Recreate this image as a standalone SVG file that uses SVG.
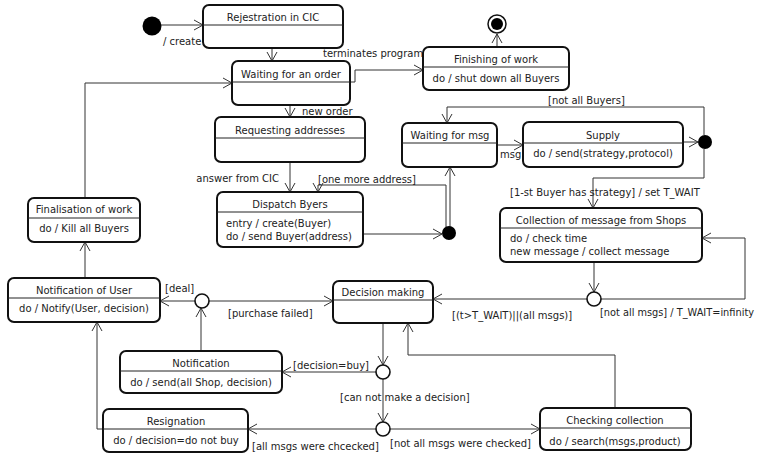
<svg xmlns="http://www.w3.org/2000/svg" width="757" height="455" viewBox="0 0 757 455">
<defs>
<marker id="arr" markerWidth="12" markerHeight="12" refX="10" refY="6" orient="auto" markerUnits="userSpaceOnUse">
<path d="M1,1 L10,6 L1,11" fill="none" stroke="#333" stroke-width="1"/>
</marker>
<style>
.st{fill:#fff;stroke:#111;stroke-width:2}
.sep{stroke:#222;stroke-width:1}
text{font-family:"DejaVu Sans",sans-serif;font-size:10px;fill:#222}
.c{text-anchor:middle}
.e{fill:none;stroke:#333;stroke-width:1;marker-end:url(#arr)}
.ln{fill:none;stroke:#333;stroke-width:1}
.ch{fill:#fff;stroke:#111;stroke-width:1.6}
</style>
</defs>
<rect width="757" height="455" fill="#fff"/>
<g id="connectors">
<path class="e" d="M161,25 H203"/>
<path class="e" d="M272,48 V61"/>
<path class="e" d="M350,82 H355 V70 H423"/>
<path class="e" d="M497,47 V34"/>
<path class="e" d="M290,105 V117"/>
<path class="e" d="M290,162 V192"/>
<path class="e" d="M363,234 H442"/>
<path class="e" d="M446,227 V185 H318 V192"/>
<path class="e" d="M450,227 V167"/>
<path class="e" d="M497,145 H523"/>
<path class="e" d="M683,142 H698"/>
<path class="e" d="M704,135 V107 H447 V123"/>
<path class="e" d="M704,149 V178 H593 V208"/>
<path class="e" d="M594,262 V292"/>
<path class="e" d="M601,299 H745 V238 H702"/>
<path class="e" d="M587,299 H433"/>
<path class="e" d="M383,323 V365"/>
<path class="e" d="M376,372 H282"/>
<path class="e" d="M383,379 V422"/>
<path class="e" d="M376,429 H248"/>
<path class="e" d="M390,429 H540"/>
<path class="e" d="M615,408 V355 H408 V323"/>
<path class="e" d="M201,351 V308"/>
<path class="e" d="M195,301 H160"/>
<path class="e" d="M209,301 H333"/>
<path class="e" d="M85,278 V242"/>
<path class="e" d="M85,198 V83 H232"/>
<path class="e" d="M103,429 H97 V322"/>
<text x="163" y="45">/ create</text>
<text x="323" y="57">terminates program</text>
<text x="302" y="115">new order</text>
<text x="279" y="182" text-anchor="end">answer from CIC</text>
<text x="318" y="183">[one more address]</text>
<text x="500" y="158">msg</text>
<text x="548" y="104">[not all Buyers]</text>
<text x="510" y="196">[1-st Buyer has strategy] / set T_WAIT</text>
<text x="600" y="316" textLength="154" lengthAdjust="spacingAndGlyphs">[not all msgs] / T_WAIT=infinity</text>
<text x="452" y="319">[(t&gt;T_WAIT)||(all msgs)]</text>
<text x="165" y="292">[deal]</text>
<text x="228" y="317">[purchase failed]</text>
<text x="293" y="369">[decision=buy]</text>
<text x="340" y="401">[can not make a decision]</text>
<text x="252" y="450">[all msgs were chcecked]</text>
<text x="390" y="447">[not all msgs were checked]</text>
</g>
<g id="initial"><circle cx="152" cy="26" r="9.5" fill="#000"/></g>
<g id="final"><circle cx="497" cy="24" r="9" fill="#fff" stroke="#111" stroke-width="1.5"/><circle cx="497" cy="24" r="6" fill="#000"/></g>
<g id="junction1"><circle cx="449" cy="233" r="7" fill="#000"/></g>
<g id="junction2"><circle cx="705" cy="142" r="7" fill="#000"/></g>
<g id="choice1"><circle class="ch" cx="594" cy="299" r="7"/></g>
<g id="choice2"><circle class="ch" cx="202" cy="301" r="7"/></g>
<g id="choice3"><circle class="ch" cx="383" cy="372" r="7"/></g>
<g id="choice4"><circle class="ch" cx="383" cy="429" r="7"/></g>
<g id="rejestration"><rect class="st" x="203" y="5" width="140" height="43" rx="6"/><line class="sep" x1="203" y1="25" x2="343" y2="25"/><text class="c" x="273" y="21">Rejestration in CIC</text></g>
<g id="waiting-order"><rect class="st" x="232" y="61" width="118" height="44" rx="6"/><line class="sep" x1="232" y1="82" x2="350" y2="82"/><text class="c" x="291" y="78">Waiting for an order</text></g>
<g id="finishing"><rect class="st" x="423" y="47" width="146" height="43" rx="6"/><line class="sep" x1="423" y1="67" x2="569" y2="67"/><text class="c" x="496" y="63">Finishing of work</text><text class="c" x="496" y="82">do / shut down all Buyers</text></g>
<g id="requesting"><rect class="st" x="215" y="117" width="150" height="45" rx="6"/><line class="sep" x1="215" y1="138" x2="365" y2="138"/><text class="c" x="290" y="134">Requesting addresses</text></g>
<g id="dispatch"><rect class="st" x="217" y="192" width="146" height="55" rx="6"/><line class="sep" x1="217" y1="212" x2="363" y2="212"/><text class="c" x="290" y="208">Dispatch Byers</text><text x="226" y="227">entry / create(Buyer)</text><text x="226" y="240">do / send Buyer(address)</text></g>
<g id="waiting-msg"><rect class="st" x="402" y="123" width="95" height="44" rx="6"/><line class="sep" x1="402" y1="143" x2="497" y2="143"/><text class="c" x="450" y="139">Waiting for msg</text></g>
<g id="supply"><rect class="st" x="523" y="122" width="160" height="45" rx="6"/><line class="sep" x1="523" y1="143" x2="683" y2="143"/><text class="c" x="603" y="139">Supply</text><text class="c" x="603" y="157">do / send(strategy,protocol)</text></g>
<g id="collection"><rect class="st" x="500" y="208" width="202" height="54" rx="6"/><line class="sep" x1="500" y1="228" x2="702" y2="228"/><text class="c" x="601" y="224">Collection of message from Shops</text><text x="510" y="242">do / check time</text><text x="510" y="255">new message / collect message</text></g>
<g id="finalisation"><rect class="st" x="28" y="198" width="112" height="44" rx="6"/><line class="sep" x1="28" y1="218" x2="140" y2="218"/><text class="c" x="84" y="213">Finalisation of work</text><text class="c" x="84" y="232">do / Kill all Buyers</text></g>
<g id="notification-user"><rect class="st" x="8" y="278" width="152" height="44" rx="6"/><line class="sep" x1="8" y1="298" x2="160" y2="298"/><text class="c" x="84" y="294">Notification of User</text><text class="c" x="84" y="312">do / Notify(User, decision)</text></g>
<g id="decision"><rect class="st" x="333" y="281" width="100" height="42" rx="6"/><line class="sep" x1="333" y1="300" x2="433" y2="300"/><text class="c" x="383" y="296">Decision making</text></g>
<g id="notification"><rect class="st" x="120" y="351" width="162" height="42" rx="6"/><line class="sep" x1="120" y1="371" x2="282" y2="371"/><text class="c" x="201" y="367">Notification</text><text class="c" x="201" y="386">do / send(all Shop, decision)</text></g>
<g id="resignation"><rect class="st" x="103" y="409" width="145" height="43" rx="6"/><line class="sep" x1="103" y1="429" x2="248" y2="429"/><text class="c" x="176" y="425">Resignation</text><text class="c" x="176" y="444">do / decision=do not buy</text></g>
<g id="checking"><rect class="st" x="540" y="408" width="151" height="42" rx="6"/><line class="sep" x1="540" y1="428" x2="691" y2="428"/><text class="c" x="615" y="424">Checking collection</text><text class="c" x="615" y="445">do / search(msgs,product)</text></g>
</svg>
